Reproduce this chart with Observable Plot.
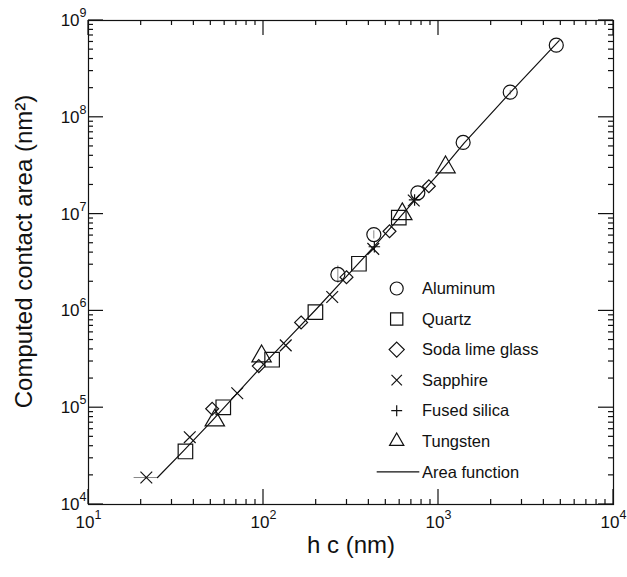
<!DOCTYPE html>
<html>
<head>
<meta charset="utf-8">
<script src="https://cdn.jsdelivr.net/npm/d3@7"></script>
<script src="https://cdn.jsdelivr.net/npm/@observablehq/plot@0.6"></script>
<style>
  body { margin: 0; background: #fff; }
  #chart svg { font-family: "Liberation Sans", Arial, sans-serif; overflow: visible; }
</style>
</head>
<body>
<div id="chart"></div>
<script>
// Contact depth h_c (nm) and computed contact area (nm^2) per material
const aluminum = [[266, 2.38e6], [427, 6.15e6], [762, 1.66e7], [1383, 5.5e7], [2570, 1.82e8], [4710, 5.56e8]];
const quartz = [[35.8, 3.53e4], [58.9, 1.01e5], [112, 3.13e5], [198, 9.7e5], [351, 3.07e6], [593, 9.2e6]];
const sodaLime = [[50.9, 9.75e4], [94, 2.69e5], [164, 7.6e5], [298, 2.23e6], [525, 6.65e6], [881, 1.94e7]];
const sapphire = [[21.4, 1.9e4], [37.9, 4.96e4], [70.8, 1.41e5], [134, 4.4e5], [247, 1.39e6], [424, 4.37e6], [722, 1.38e7]];
const fusedSilica = [[430, 4.6e6], [730, 1.4e7]];
const tungsten = [[52.7, 7.4e4], [97.5, 3.4e5], [621, 1.0e7], [1097, 3.05e7]];

// Area function curve
const areaFunction = [[24.8, 1.9e4], [35, 3.6e4], [50, 7.1e4], [70, 1.38e5], [100, 2.8e5], [140, 5.3e5], [200, 1.04e6],
  [300, 2.3e6], [450, 5.1e6], [700, 1.27e7], [1000, 2.6e7], [1400, 5.4e7], [2570, 1.8e8], [4890, 6.2e8]];

// Error bars: horizontal [y, x1, x2] and vertical [x, y1, y2]
const hErrors = [[1.9e4, 18.1, 24.8]];
const vErrors = [[266, 1.95e6, 2.95e6], [427, 5.6e6, 6.8e6], [2570, 1.72e8, 1.92e8]];

// Axis ticks
const xMajor = [10, 100, 1000, 10000];
const yMajor = [1e4, 1e5, 1e6, 1e7, 1e8, 1e9];
const minorOf = (majors) => majors.slice(0, -1).flatMap(m => d3.range(2, 10).map(k => k * m));
const xMinor = minorOf(xMajor);
const yMinor = minorOf(yMajor);

const series = [
  {name: "Aluminum", data: aluminum, symbol: "circle", r: 7},
  {name: "Quartz", data: quartz, symbol: "square", r: 8.2},
  {name: "Soda lime glass", data: sodaLime, symbol: "diamond2", r: 5.8},
  {name: "Sapphire", data: sapphire, symbol: "times", r: 5.4},
  {name: "Fused silica", data: fusedSilica, symbol: "plus", r: 3.8},
  {name: "Tungsten", data: tungsten, symbol: "triangle", r: 7.2}
];

const chartWidth = 627, chartHeight = 577;
const margin = {left: 88, right: 14, top: 20, bottom: 73};

const ink = "#111";
const expFormat = d => "10^" + Math.round(Math.log10(d));

const chart = Plot.plot({
  width: chartWidth,
  height: chartHeight,
  marginLeft: margin.left,
  marginRight: margin.right,
  marginTop: margin.top,
  marginBottom: margin.bottom,
  x: {type: "log", domain: [10, 10000]},
  y: {type: "log", domain: [1e4, 1e9]},
  marks: [
    Plot.frame({stroke: ink, strokeWidth: 1.2}),
    Plot.axisX(xMajor, {anchor: "bottom", tickSize: 0, tickPadding: 11, tickFormat: expFormat, fontSize: 17, label: null, fill: ink}),
    Plot.axisY(yMajor, {anchor: "left", tickSize: 0, tickPadding: 2, tickFormat: expFormat, fontSize: 17, label: null, fill: ink}),
    Plot.text(["h c (nm)"], {frameAnchor: "bottom", dy: 48, fontSize: 24, fill: ink, textAnchor: "middle", ariaLabel: "x-title"}),
    Plot.text(["Computed contact area (nm²)"], {frameAnchor: "left", dx: -64, dy: -11, rotate: -90, fontSize: 24, fill: ink, textAnchor: "middle"}),
    Plot.link(hErrors, {x1: d => d[1], x2: d => d[2], y1: d => d[0], y2: d => d[0], stroke: "#888", strokeWidth: 1}),
    Plot.link(vErrors, {x1: d => d[0], x2: d => d[0], y1: d => d[1], y2: d => d[2], stroke: "#888", strokeWidth: 1}),
    Plot.line(areaFunction, {x: d => d[0], y: d => d[1], stroke: ink, strokeWidth: 1.2}),
    ...series.map(s => Plot.dot(s.data, {x: d => d[0], y: d => d[1], symbol: s.symbol, r: s.r, stroke: ink, strokeWidth: 1.2, fill: "none"}))
  ]
});

// Inward ticks on all four sides, placed with the chart's own scales
const sx = chart.scale("x"), sy = chart.scale("y");
const frameTop = margin.top, frameBottom = chartHeight - margin.bottom;
const frameLeft = margin.left, frameRight = chartWidth - margin.right;
const tickGroup = d3.select(chart).insert("g", ":first-child").attr("class", "ticks")
  .attr("stroke", ink).attr("stroke-width", 1.2);
const addTicksX = (ticks, len) => ticks.forEach(v => {
  const x = sx.apply(v);
  tickGroup.append("line").attr("x1", x).attr("x2", x).attr("y1", frameBottom).attr("y2", frameBottom - len);
  tickGroup.append("line").attr("x1", x).attr("x2", x).attr("y1", frameTop).attr("y2", frameTop + len);
});
const addTicksY = (ticks, len) => ticks.forEach(v => {
  const y = sy.apply(v);
  tickGroup.append("line").attr("y1", y).attr("y2", y).attr("x1", frameLeft).attr("x2", frameLeft + len);
  tickGroup.append("line").attr("y1", y).attr("y2", y).attr("x1", frameRight).attr("x2", frameRight - len);
});
addTicksX(xMajor, 15); addTicksX(xMinor, 5);
addTicksY(yMajor, 15); addTicksY(yMinor, 5);

const ns = "http://www.w3.org/2000/svg";
// Exponents as raised tspans
chart.querySelectorAll('g[aria-label$="tick label"] text').forEach(t => {
  const parts = t.textContent.split("^");
  if (parts.length !== 2) return;
  t.textContent = parts[0];
  const sup = document.createElementNS(ns, "tspan");
  sup.setAttribute("dy", "-9");
  sup.setAttribute("font-size", "12.5");
  sup.textContent = parts[1];
  t.appendChild(sup);
});
// Subscripted c in the x title
chart.querySelectorAll('g[aria-label="x-title"] text').forEach(t => {
  t.textContent = "h";
  const sub = document.createElementNS(ns, "tspan");
  sub.setAttribute("dy", "10");
  sub.textContent = " c";
  const rest = document.createElementNS(ns, "tspan");
  rest.setAttribute("dy", "-10");
  rest.textContent = " (nm)";
  t.append(sub, rest);
});

// Legend
const legend = d3.select(chart).append("g").attr("class", "legend")
  .attr("font-size", 16.5).attr("fill", ink).attr("text-anchor", "start");
const symbolType = {circle: d3.symbolCircle, square: d3.symbolSquare2, diamond2: d3.symbolDiamond2,
  times: d3.symbolTimes, plus: d3.symbolPlus, triangle: d3.symbolTriangle2};
const legendScale = {circle: 6.5, square: 7.8, diamond2: 6.8, times: 4.8, plus: 3.6, triangle: 6.8};
series.forEach((s, i) => {
  const y = 288.5 + i * 30.55;
  legend.append("path")
    .attr("transform", `translate(396.7,${y})`)
    .attr("d", d3.symbol(symbolType[s.symbol], Math.PI * legendScale[s.symbol] ** 2)())
    .attr("fill", "none").attr("stroke", ink).attr("stroke-width", 1.2);
  legend.append("text").attr("x", 422).attr("y", y).attr("dy", "0.35em").text(s.name);
});
const yLine = 288.5 + 6 * 30.55;
legend.append("line").attr("x1", 376.7).attr("x2", 419.3).attr("y1", yLine).attr("y2", yLine)
  .attr("stroke", ink).attr("stroke-width", 1.2);
legend.append("text").attr("x", 422).attr("y", yLine).attr("dy", "0.35em").text("Area function");

document.getElementById("chart").append(chart);
</script>
</body>
</html>
